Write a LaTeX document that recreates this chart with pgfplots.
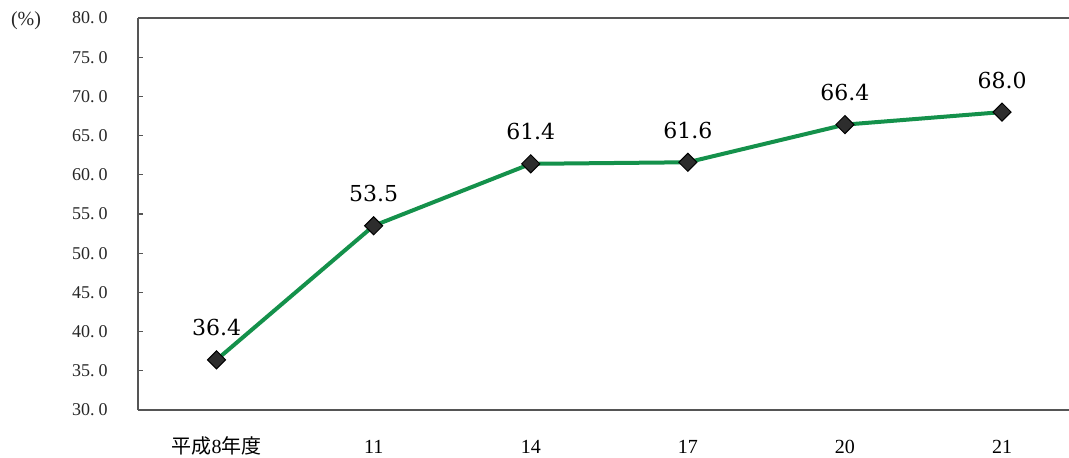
\documentclass[border=0pt]{standalone}
\usepackage{pgfplots}
\pgfplotsset{compat=1.18}
\usepackage{fontspec}
\setmainfont{Liberation Serif}
\newfontfamily\dvs{DejaVu Serif}
\newfontfamily\cjk{Noto Sans CJK JP}
\usetikzlibrary{calc}
\definecolor{lineGreen}{RGB}{20,145,75}
\definecolor{frameGray}{RGB}{85,85,85}
\definecolor{markGray}{RGB}{45,45,45}
\newcommand{\tl}[2]{#1.\kern.22em#2}
\begin{document}
\begin{tikzpicture}
\begin{axis}[
    name=ax,
    scale only axis,
    width=471.3pt, height=196pt,
    xmin=-0.5, xmax=5.5,
    ymin=30, ymax=80,
    axis lines=left,
    axis line style={-, frameGray, line width=0.8pt},
    xtick={0,1,2,3,4,5},
    xticklabels={{\cjk 平成}8{\cjk 年度},11,14,17,20,21},
    major x tick style={draw=none},
    xticklabel style={anchor=base, inner sep=0pt, yshift=-21.5pt, font=\fontsize{10}{12}\selectfont},
    ytick={30,35,...,80},
    yticklabels={\tl{30}{0},\tl{35}{0},\tl{40}{0},\tl{45}{0},\tl{50}{0},\tl{55}{0},\tl{60}{0},\tl{65}{0},\tl{70}{0},\tl{75}{0},\tl{80}{0}},
    yticklabel style={anchor=east, inner sep=0pt, xshift=-15pt, text=black!85, font=\fontsize{9}{10}\selectfont},
    tick align=inside,
    major tick length=2.5pt,
    tick style={frameGray, line width=0.6pt},
    clip=false,
]
\draw[frameGray, line width=0.8pt] (rel axis cs:0,1) -- (rel axis cs:1,1);
\addplot[
    color=lineGreen,
    line width=2pt,
    mark=square*,
    mark size=3.2pt,
    mark options={rotate=45, fill=markGray, draw=black, line width=0.5pt},
    nodes near coords,
    point meta=explicit symbolic,
    every node near coord/.append style={anchor=base, yshift=12pt, text=black, font=\dvs\fontsize{11}{12}\selectfont},
    ] coordinates {
    (0,36.4) [36.4]
    (1,53.5) [53.5]
    (2,61.4) [61.4]
    (3,61.6) [61.6]
    (4,66.4) [66.4]
    (5,68.0) [68.0]
    };
\node[font=\fontsize{10}{12}\selectfont, anchor=center, text=black!85] at ($(rel axis cs:0,1)+(-56pt,-1.5pt)$) {(\%)};
\end{axis}
\pgfresetboundingbox
\useasboundingbox ($(ax.south west)+(-69pt,-23.5pt)$) rectangle ($(ax.north west)+(465.5pt,9pt)$);
\end{tikzpicture}
\end{document}
